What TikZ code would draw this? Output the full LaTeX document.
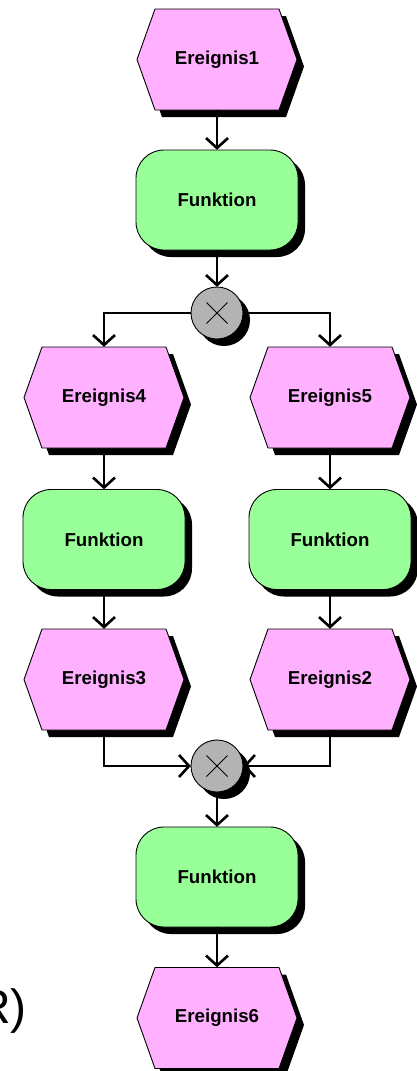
\documentclass[tikz,border=0pt]{standalone}
\usepackage{fontspec}
\setmainfont{Liberation Sans}
\usetikzlibrary{arrows.meta}
\definecolor{evpink}{RGB}{255,176,255}
\definecolor{fngreen}{RGB}{153,255,153}
\definecolor{xgray}{RGB}{179,179,179}
\tikzset{
  conn/.style={line width=2.6pt, -{Straight Barb[length=10pt,width=22pt]}},
  lbl/.style={font=\bfseries\fontsize{18.7}{22}\selectfont, inner sep=0pt, text=black},
  outl/.style={draw=black, line width=0.9pt},
  shd/.style={fill=black},
}
\newcommand\evtshape[3]{%
  \begin{scope}[shift={(#2)}]
    \path[shd] (-73,7) -- (-55,-43.5) -- (69,-43.5) -- (87,7) -- (69,57.5) -- (-55,57.5) -- cycle;
    \path[outl, fill=evpink] (-80,0) -- (-62,-50.5) -- (62,-50.5) -- (80,0) -- (62,50.5) -- (-62,50.5) -- cycle;
  \end{scope}
  \node[lbl, minimum width=160pt, minimum height=101pt] (#1) at (#2) {#3};
}
\newcommand\fnshape[3]{%
  \begin{scope}[shift={(#2)}]
    \path[shd, rounded corners=28pt] (-74,-43) rectangle (88,57);
    \path[outl, fill=fngreen, rounded corners=28pt] (-81,-50) rectangle (81,50);
  \end{scope}
  \node[lbl, minimum width=162pt, minimum height=100pt] (#1) at (#2) {#3};
}
\newcommand\xorshape[2]{%
  \begin{scope}[shift={(#2)}]
    \path[shd] (7,7) circle[radius=26pt];
    \path[outl, fill=xgray] (0,0) circle[radius=26pt];
    \draw[line width=0.8pt] (-10.5,-10.5) -- (10.5,10.5) (-10.5,10.5) -- (10.5,-10.5);
  \end{scope}
  \node[circle, minimum size=52pt, inner sep=0pt] (#1) at (#2) {};
}
\begin{document}
\begin{tikzpicture}[x=1pt,y=-1pt]
\useasboundingbox (0,0) rectangle (417,1071);
\clip (0,0) rectangle (417,1071);
\evtshape{e1}{217,59.5}{Ereignis1}
\fnshape{f1}{217,200}{Funktion}
\xorshape{x1}{217,313}
\evtshape{e4}{104,397.5}{Ereignis4}
\evtshape{e5}{330,397.5}{Ereignis5}
\fnshape{f4}{104,539.5}{Funktion}
\fnshape{f5}{330,539.5}{Funktion}
\evtshape{e3}{104,679.5}{Ereignis3}
\evtshape{e2}{330,679.5}{Ereignis2}
\xorshape{x2}{217,766}
\fnshape{f3}{217,877}{Funktion}
\evtshape{e6}{217,1018}{Ereignis6}
\node[anchor=base west, inner sep=0pt, font=\fontsize{48}{56}\selectfont] (xorlbl) at (-24,1023) {R)};
\draw[conn] (e1.south) -- (f1.north);
\draw[conn] (f1.south) -- (x1.north);
\draw[conn] (x1.west) -| (e4.north);
\draw[conn] (x1.east) -| (e5.north);
\draw[conn] (e4.south) -- (f4.north);
\draw[conn] (e5.south) -- (f5.north);
\draw[conn] (f4.south) -- (e3.north);
\draw[conn] (f5.south) -- (e2.north);
\draw[conn] (e3.south) |- (x2.west);
\draw[conn] (e2.south) |- (x2.east);
\draw[conn] (x2.south) -- (f3.north);
\draw[conn] (f3.south) -- (e6.north);
\end{tikzpicture}
\end{document}
